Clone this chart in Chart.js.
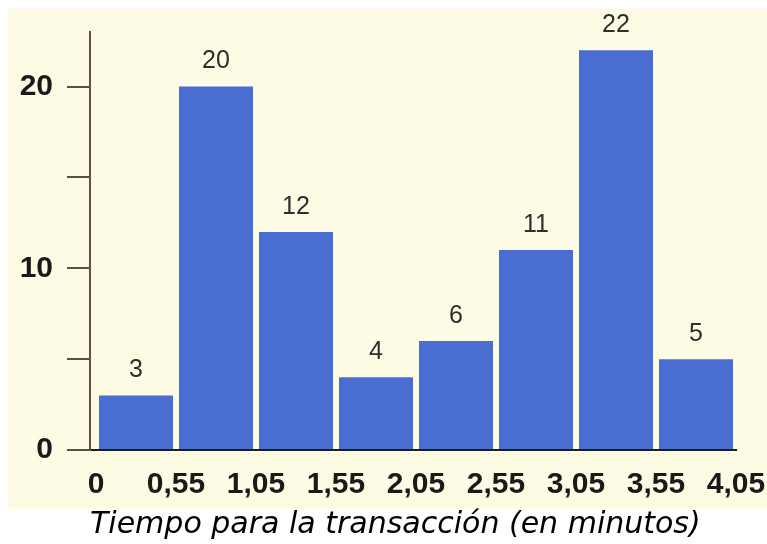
<!DOCTYPE html>
<html>
<head>
<meta charset="utf-8">
<script src="https://cdn.jsdelivr.net/npm/chart.js@4"></script>
<style>
  html, body { margin: 0; padding: 0; background: #ffffff; }
  #wrap { width: 767px; height: 544px; }
</style>
</head>
<body>
<div id="wrap"><canvas id="chart_canvas" width="767" height="544"></canvas></div>
<script>
// bordes de los intervalos (eje x) y frecuencias
const edgeLabels = ['0', '0,55', '1,05', '1,55', '2,05', '2,55', '3,05', '3,55', '4,05']
const counts = [3, 20, 12, 4, 6, 11, 22, 5]
const yTicks = [0, 5, 10, 15, 20]
const yLabels = ['0', '', '10', '', '20']

const axisFont = { family: "'Liberation Sans', Arial, sans-serif", size: 30, weight: 'bold' }

// fondo crema detras del grafico
const creamBg = {
    id: 'creamBg',
    beforeDraw(chart) {
        const ctx = chart.ctx
        ctx.save()
        ctx.fillStyle = '#fdfbe3'
        ctx.fillRect(8, 9, 759, 500)
        ctx.restore()
    }
}

// numeros encima de las barras
const barValues = {
    id: 'barValues',
    afterDatasetsDraw(chart) {
        const ctx = chart.ctx
        const meta = chart.getDatasetMeta(0)
        ctx.save()
        ctx.fillStyle = '#2e2e2e'
        ctx.font = "25px 'Liberation Sans', Arial, sans-serif"
        ctx.textAlign = 'center'
        ctx.textBaseline = 'middle'
        meta.data.forEach((bar, i) => {
            ctx.fillText(String(counts[i]), bar.x, bar.y - 25)
        })
        ctx.restore()
    }
}

const data = {
    datasets: [{
        data: counts.map((v, i) => ({ x: i + 0.5, y: v })),
        backgroundColor: '#4a6dd2',
        borderWidth: 0,
        barPercentage: 0.925,
        categoryPercentage: 1
    }]
}

const config = {
    type: 'bar',
    data,
    options: {
        responsive: false,
        animation: false,
        layout: {
            padding: { top: 27, right: 31, bottom: 0, left: 0 }
        },
        scales: {
            x: {
                type: 'linear',
                offset: false,
                min: -0.075,
                max: 8,
                afterFit: (scale) => {
                    scale.height = 94
                    scale.paddingLeft = 0
                    scale.paddingRight = 0
                },
                afterBuildTicks: (scale) => {
                    scale.ticks = edgeLabels.map((_, i) => ({ value: i }))
                },
                ticks: {
                    color: '#1a1a1a',
                    font: axisFont,
                    padding: 17,
                    maxRotation: 0,
                    autoSkip: false,
                    callback: (v) => edgeLabels[v]
                },
                grid: { display: true, drawOnChartArea: false, drawTicks: false },
                border: { display: true, color: '#1e1e1e', width: 2 },
                title: {
                    display: true,
                    text: 'Tiempo para la transacción (en minutos)',
                    align: 'start',
                    color: '#000000',
                    font: { family: "'DejaVu Sans', sans-serif", size: 30, style: 'italic' },
                    padding: { top: 0, bottom: 1 }
                }
            },
            y: {
                min: 0,
                max: 23,
                afterFit: (scale) => { scale.width = 90 },
                afterBuildTicks: (scale) => {
                    scale.ticks = yTicks.map(v => ({ value: v }))
                },
                ticks: {
                    color: '#1a1a1a',
                    font: axisFont,
                    padding: 14,
                    callback: (v) => yLabels[yTicks.indexOf(v)]
                },
                grid: {
                    drawOnChartArea: false,
                    drawTicks: true,
                    tickLength: 23,
                    color: '#5a5046',
                    lineWidth: 2
                },
                border: { display: true, color: '#5a5046', width: 2 }
            }
        },
        plugins: {
            legend: { display: false },
            tooltip: { enabled: false }
        }
    },
    plugins: [creamBg, barValues]
}

const ctx = document.getElementById('chart_canvas').getContext('2d')
const myChart = new Chart(ctx, config)
</script>
</body>
</html>
